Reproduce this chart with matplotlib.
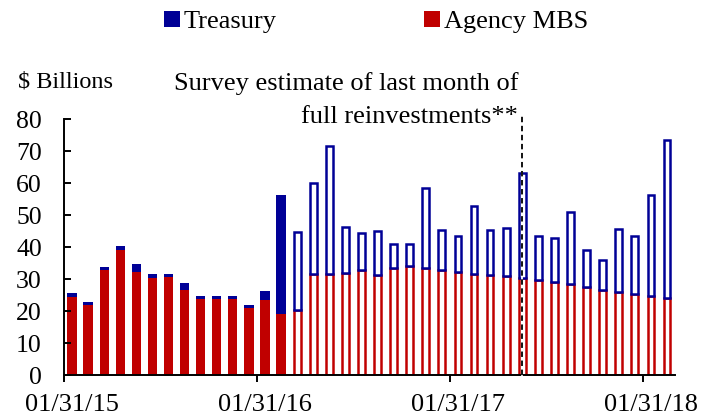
import numpy as np
import pandas as pd
import matplotlib
matplotlib.use("Agg")
import matplotlib.pyplot as plt
from matplotlib.patches import Patch

plt.rcParams["font.family"] = "Liberation Serif"

# monthly reinvestments, $ billions (Jan 2015 - Feb 2018)
months = pd.date_range("2015-01-31", periods=38, freq="ME")
mbs = [24.3, 21.9, 32.7, 39.0, 32.1, 30.4, 30.5, 26.5, 23.6, 23.6, 23.6, 20.9,
       23.5, 19.0, 20.4, 31.6, 31.6, 31.9, 32.9, 31.2, 33.5, 34.0, 33.5, 32.9,
       32.3, 31.7, 31.2, 30.8, 30.3, 29.7, 29.1, 28.4, 27.4, 26.7, 26.0, 25.3,
       24.7, 24.1]
treasury = [1.2, 0.9, 0.9, 1.2, 2.5, 1.1, 1.1, 2.2, 1.1, 1.1, 1.1, 1.1,
            2.7, 37.4, 24.3, 28.3, 40.0, 14.2, 11.5, 13.7, 7.4, 7.0, 24.8, 12.3,
            11.1, 21.1, 14.2, 15.1, 32.9, 13.7, 13.7, 22.4, 11.6, 9.2, 19.7, 18.1,
            31.4, 49.2]
n_actual = 14          # first 14 months are realized, rest are projections
survey_month = "2017-05-31"
tick_labels = ["01/31/15", "01/31/16", "01/31/17", "01/31/18"]

RED = "#C00000"
NAVY = "#000096"

fig = plt.figure(figsize=(7.12, 4.18), dpi=100)
ax = fig.add_axes([64 / 712, 43 / 418, 611 / 712, 256 / 418])

x = np.arange(len(months))
mbs = np.array(mbs)
treasury = np.array(treasury)
act = x < n_actual
proj = ~act

# realized: filled bars
ax.bar(x[act], mbs[act], width=0.58, color=RED, linewidth=0)
ax.bar(x[act], treasury[act], bottom=mbs[act], width=0.58, color=NAVY, linewidth=0)

# projected: outlined bars
ax.bar(x[proj], mbs[proj], width=0.42, facecolor="white", edgecolor=RED, linewidth=1.8)
ax.bar(x[proj], treasury[proj], bottom=mbs[proj], width=0.42, facecolor="white",
       edgecolor=NAVY, linewidth=1.8)

# survey marker
sx = x[months == pd.Timestamp(survey_month)][0]
ax.plot([sx, sx], [0, 81], color="white", lw=1.3, clip_on=False, zorder=5)
ax.plot([sx, sx], [0, 81], color="black", lw=1.3, ls=(0, (3, 2)), clip_on=False, zorder=6)

ax.set_xlim(-0.5, len(months) - 0.5)
ax.set_ylim(0, 80)
ax.set_yticks(range(0, 81, 10))

# tick marks on month boundaries, labels centred on the January bars
jan = [i for i, m in enumerate(months) if m.month == 1]
ax.set_xticks([i - 0.5 for i in jan])
ax.set_xticklabels([])
ax.set_xticks(jan, minor=True)
ax.set_xticklabels(tick_labels, minor=True)

for s in ["top", "right"]:
    ax.spines[s].set_visible(False)
for s in ["left", "bottom"]:
    ax.spines[s].set_linewidth(1.4)
ax.tick_params(axis="y", direction="in", length=5, width=1.4, pad=16, labelsize=18.5)
ax.tick_params(axis="x", which="major", direction="out", length=5, width=1.4)
ax.tick_params(axis="x", which="minor", length=0, pad=14, labelsize=19)

fig.text(18 / 712, 1 - 82 / 418, "$ Billions", fontsize=17.5, ha="left", va="center")
fig.text(518 / 712, 1 - 84 / 418, "Survey estimate of last month of", fontsize=19,
         ha="right", va="center")
fig.text(518 / 712, 1 - 117 / 418, "full reinvestments**", fontsize=19,
         ha="right", va="center")

handles = [Patch(facecolor=NAVY, label="Treasury"), Patch(facecolor=RED, label="Agency MBS")]
fig.legend(handles=handles, loc="center", bbox_to_anchor=(376 / 712, 1 - 22 / 418),
           ncol=2, frameon=False, fontsize=19, handlelength=0.6, handleheight=0.6,
           handletextpad=0.15, columnspacing=5.6, borderpad=0.1)

fig.savefig("out.png", dpi=100)
